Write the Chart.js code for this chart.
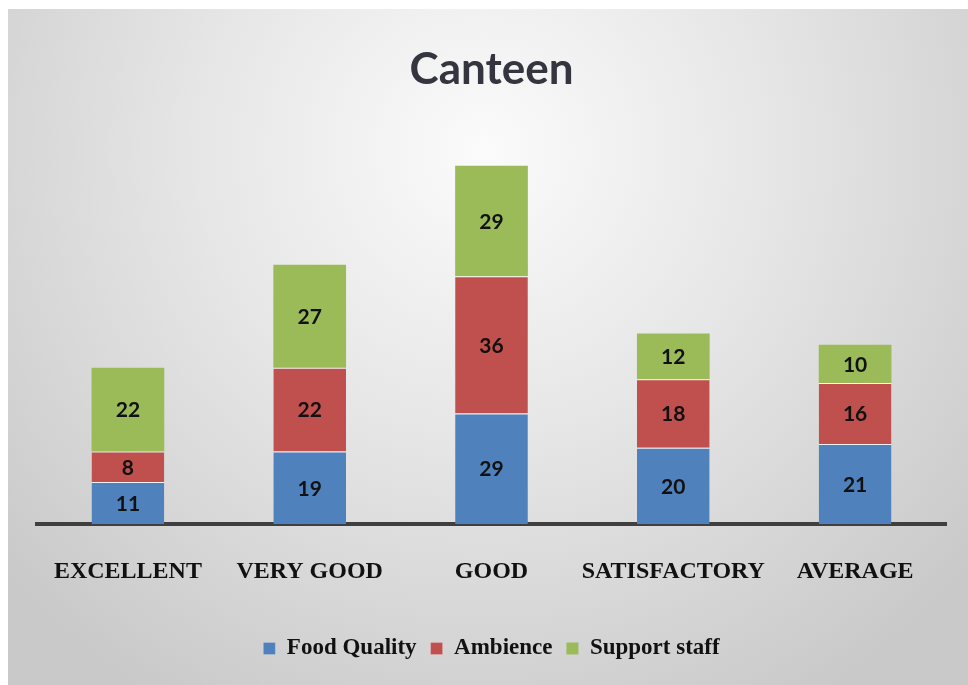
<!DOCTYPE html>
<html>
<head>
<meta charset="utf-8">
<script src="https://cdn.jsdelivr.net/npm/chart.js@4"></script>
<style>
html,body{margin:0;padding:0;background:#fff;}
#wrap{width:968px;height:685px;position:relative;}
</style>
</head>
<body>
<div id="wrap"><canvas id="c" width="968" height="685"></canvas></div>
<script>
const categories = ["EXCELLENT", "VERY GOOD", "GOOD", "SATISFACTORY", "AVERAGE"];
const foodQuality = [11, 19, 29, 20, 21];
const ambience = [8, 22, 36, 18, 16];
const supportStaff = [22, 27, 29, 12, 10];
const seriesNames = ["Food Quality", "Ambience", "Support staff"];

const bgPlugin = {
  id: 'bg',
  beforeDraw(chart) {
    const ctx = chart.ctx;
    ctx.save();
    ctx.fillStyle = '#ffffff';
    ctx.fillRect(0, 0, chart.width, chart.height);
    const g = ctx.createRadialGradient(484, 150, 0, 484, 150, 640);
    g.addColorStop(0, '#fbfbfb');
    g.addColorStop(0.45, '#e6e6e6');
    g.addColorStop(1, '#c9c9c9');
    ctx.fillStyle = g;
    ctx.fillRect(8, 9, chart.width - 8, chart.height - 9);
    ctx.restore();
  }
};

const labelPlugin = {
  id: 'segLabels',
  afterDatasetsDraw(chart) {
    const ctx = chart.ctx;
    ctx.save();
    ctx.font = 'bold 21px Lato, "Open Sans", sans-serif';
    ctx.fillStyle = '#111111';
    ctx.textAlign = 'center';
    ctx.textBaseline = 'middle';
    chart.data.datasets.forEach((ds, i) => {
      const meta = chart.getDatasetMeta(i);
      meta.data.forEach((el, j) => {
        const v = ds.data[j];
        const p = el.getProps(['x', 'y', 'base'], true);
        ctx.fillText(String(v), p.x, (p.y + p.base) / 2 + 1);
      });
    });
    ctx.restore();
  }
};

new Chart(document.getElementById('c'), {
  type: 'bar',
  data: {
    labels: categories,
    datasets: [
      { label: seriesNames[0], data: foodQuality, backgroundColor: '#4F81BD', borderColor: 'rgba(255,255,255,0.75)', borderWidth: {top: 1, left: 0, right: 0, bottom: 0}, borderSkipped: false },
      { label: seriesNames[1], data: ambience, backgroundColor: '#C0504D', borderColor: 'rgba(255,255,255,0.75)', borderWidth: {top: 1, left: 0, right: 0, bottom: 0}, borderSkipped: false },
      { label: seriesNames[2], data: supportStaff, backgroundColor: '#9BBB59', borderWidth: 0 }
    ]
  },
  options: {
    responsive: false,
    animation: false,
    devicePixelRatio: 1,
    layout: { padding: { left: 37, right: 22, top: 0, bottom: 15 } },
    datasets: { bar: { barPercentage: 0.4, categoryPercentage: 1.0 } },
    scales: {
      x: {
        stacked: true,
        z: 1,
        grid: { display: false, drawTicks: false, tickLength: 0 },
        border: { display: true, color: '#3f3f3f', width: 4 },
        ticks: { padding: 33, maxRotation: 0, minRotation: 0, autoSkip: false, color: '#111111', font: { family: '"Liberation Serif", "Times New Roman", serif', size: 24, weight: 'bold' } },
        title: { display: true, text: '', font: { size: 1 }, padding: { top: 0, bottom: 3 } }
      },
      y: {
        stacked: true,
        display: false,
        min: 0,
        max: 100
      }
    },
    plugins: {
      title: {
        display: true,
        text: 'Canteen',
        color: '#353540',
        font: { family: 'Lato, "Open Sans", sans-serif', size: 44, weight: 'bold' },
        padding: { top: 43, bottom: 47 }
      },
      legend: {
        display: true,
        position: 'bottom',
        labels: {
          boxWidth: 12,
          boxHeight: 12,
          padding: 14,
          color: '#111111',
          font: { family: '"Liberation Serif", "Times New Roman", serif', size: 23, weight: 'bold' }
        }
      },
      tooltip: { enabled: false }
    }
  },
  plugins: [bgPlugin, labelPlugin]
});
</script>
</body>
</html>
